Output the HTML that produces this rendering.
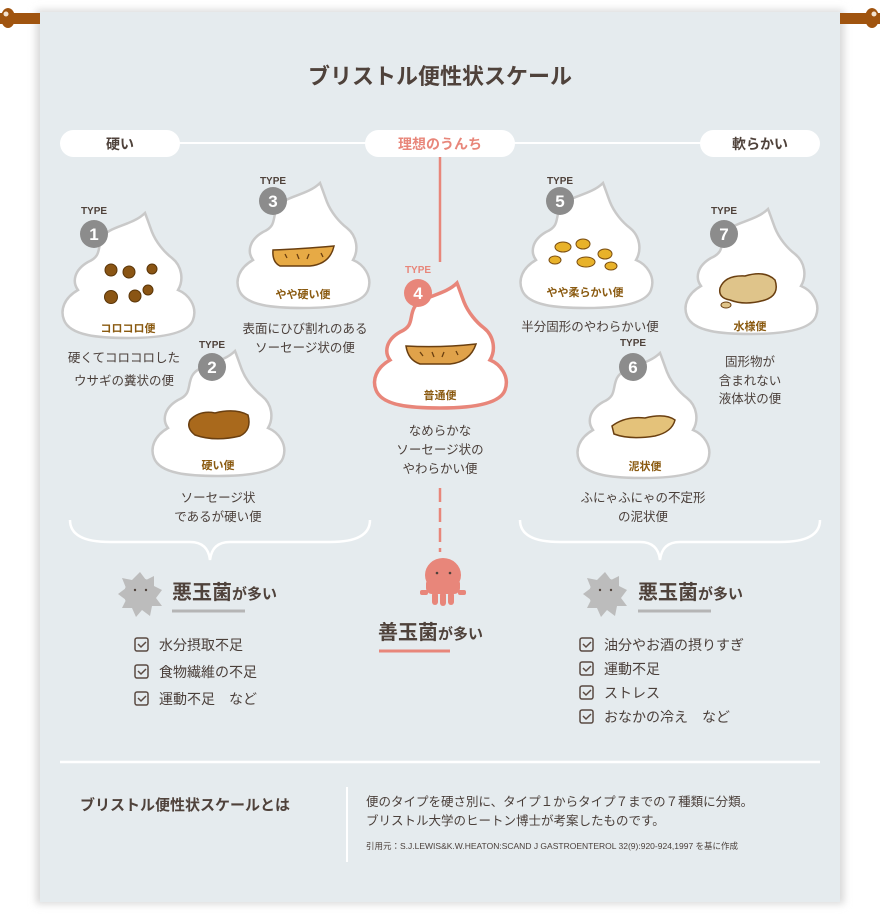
<!DOCTYPE html>
<html><head><meta charset="utf-8"><style>
html,body{margin:0;padding:0;background:#fff;}
svg{display:block;font-family:"Liberation Sans","Noto Sans CJK JP",sans-serif;}
</style></head><body>
<svg width="880" height="920" viewBox="0 0 880 920" xmlns="http://www.w3.org/2000/svg">
<defs>
<path id="p" d="M85,3 C72,16 48,16 42,28 C37,38 42,46 28,52 C14,60 12,72 18,80 C4,88 0,100 4,110 C10,126 40,128 68,128 C100,128 128,124 133,110 C138,96 128,84 118,80 C124,70 122,56 112,48 C104,42 96,32 92,22 C89,14 87,8 85,3 Z"/>
<filter id="sh" x="-5%" y="-5%" width="110%" height="110%"><feGaussianBlur stdDeviation="4"/></filter>
</defs>
<rect x="36" y="10" width="808" height="894" fill="#d8d8d8" filter="url(#sh)"/>
<rect x="40" y="12" width="800" height="890" fill="#e5ebee"/>
<rect x="0" y="13" width="40" height="11" fill="#a0540f"/>
<rect x="840" y="13" width="40" height="11" fill="#a0540f"/>
<ellipse cx="8" cy="18" rx="7" ry="10" fill="#a0540f"/><circle cx="6" cy="14" r="2.5" fill="#f2e2d0"/>
<ellipse cx="872" cy="18" rx="7" ry="10" fill="#a0540f"/><circle cx="874" cy="14" r="2.5" fill="#f2e2d0"/>

<text x="440" y="84" text-anchor="middle" font-size="22" font-weight="bold" fill="#4f423b">ブリストル便性状スケール</text>

<line x1="120" y1="143" x2="760" y2="143" stroke="#fff" stroke-width="2"/>
<rect x="60" y="130" width="120" height="27" rx="13.5" fill="#fff"/>
<text x="120" y="149" text-anchor="middle" font-size="14" font-weight="bold" fill="#4f423b">硬い</text>
<rect x="365" y="130" width="150" height="27" rx="13.5" fill="#fff"/>
<text x="440" y="149" text-anchor="middle" font-size="14" font-weight="bold" fill="#e8867a">理想のうんち</text>
<rect x="700" y="130" width="120" height="27" rx="13.5" fill="#fff"/>
<text x="760" y="149" text-anchor="middle" font-size="14" font-weight="bold" fill="#4f423b">軟らかい</text>

<line x1="440" y1="157" x2="440" y2="262" stroke="#e8867a" stroke-width="2.5"/>
<line x1="440" y1="488" x2="440" y2="552" stroke="#e8867a" stroke-width="2.5" stroke-dasharray="14,6"/>

<g stroke="#c9c9c9" stroke-width="2.5" fill="#fff">
<use href="#p" transform="translate(60,210)"/>
<use href="#p" transform="translate(235,180)"/>
<use href="#p" transform="translate(150,348)"/>
<use href="#p" transform="translate(518,180)"/>
<use href="#p" transform="translate(575,350)"/>
<use href="#p" transform="translate(683,206)"/>
</g>
<use href="#p" transform="translate(372,280)" fill="#fff" stroke="#e8867a" stroke-width="3.5"/>

<g fill="#8a5514" stroke="#5a3508" stroke-width="1">
<circle cx="111" cy="270" r="6"/><circle cx="129" cy="272" r="6"/><circle cx="152" cy="269" r="5"/>
<circle cx="111" cy="297" r="6.5"/><circle cx="135" cy="296" r="6"/><circle cx="148" cy="290" r="5"/>
</g>
<path d="M273,250 Q300,249 334,246 Q330,264 310,266 L280,266 Q272,262 273,250Z" fill="#e7aa45" stroke="#6a3f10" stroke-width="1.5"/>
<g stroke="#6a3f10" stroke-width="1.3"><path d="M285,254 l2,4 M297,254 l2,5 M309,254 l-2,5 M321,253 l2,4"/></g>
<path d="M190,420 Q200,410 215,413 Q235,408 248,415 Q252,430 240,436 Q215,442 195,435 Q186,428 190,420Z" fill="#a9691c" stroke="#6a3f10" stroke-width="1.5"/>
<path d="M406,346 Q440,348 476,344 Q470,362 450,364 L420,364 Q408,360 406,346Z" fill="#e0a24a" stroke="#6a3f10" stroke-width="1.5"/>
<g stroke="#6a3f10" stroke-width="1.3"><path d="M420,352 l3,4 M432,352 l2,5 M444,352 l-2,5 M456,351 l2,4"/></g>
<g fill="#e8b22a" stroke="#7a4d10" stroke-width="1">
<ellipse cx="563" cy="247" rx="8" ry="5"/><ellipse cx="583" cy="244" rx="7" ry="5"/><ellipse cx="555" cy="260" rx="6" ry="4"/>
<ellipse cx="586" cy="262" rx="9" ry="5"/><ellipse cx="605" cy="254" rx="7" ry="5"/><ellipse cx="611" cy="266" rx="6" ry="4"/>
</g>
<path d="M612,426 Q625,416 645,418 Q665,413 675,420 Q672,432 655,436 Q630,440 614,434Z" fill="#e4c27a" stroke="#6a3f10" stroke-width="1.5"/>
<path d="M720,288 Q725,275 745,276 Q765,270 775,280 Q780,295 765,300 Q745,306 730,300 Q718,298 720,288Z" fill="#dfc48a" stroke="#6a3f10" stroke-width="1.5"/>
<ellipse cx="726" cy="305" rx="5" ry="3" fill="#dfc48a" stroke="#6a3f10"/>

<g font-size="10" font-weight="bold" text-anchor="middle" fill="#4f423b">
<text x="94" y="214">TYPE</text><text x="273" y="184">TYPE</text><text x="212" y="348">TYPE</text>
<text x="560" y="184">TYPE</text><text x="633" y="346">TYPE</text><text x="724" y="214">TYPE</text>
<text x="418" y="273" fill="#e8867a">TYPE</text>
</g>
<g fill="#8c8c8c"><circle cx="94" cy="234" r="14"/><circle cx="273" cy="201" r="14"/><circle cx="212" cy="367" r="14"/><circle cx="560" cy="201" r="14"/><circle cx="633" cy="367" r="14"/><circle cx="724" cy="234" r="14"/></g>
<circle cx="418" cy="293" r="14" fill="#e8867a"/>
<g font-size="17" font-weight="bold" text-anchor="middle" fill="#fff">
<text x="94" y="240">1</text><text x="273" y="207">3</text><text x="212" y="373">2</text><text x="560" y="207">5</text><text x="633" y="373">6</text><text x="724" y="240">7</text><text x="418" y="299">4</text>
</g>

<g font-size="11" font-weight="bold" text-anchor="middle" fill="#8a5a10">
<text x="128" y="332">コロコロ便</text><text x="303" y="298">やや硬い便</text><text x="218" y="469">硬い便</text>
<text x="440" y="399">普通便</text><text x="585" y="296">やや柔らかい便</text><text x="645" y="470">泥状便</text><text x="750" y="330">水様便</text>
</g>
<g font-size="12.5" text-anchor="middle" fill="#4a3f3a">
<text x="124" y="362">硬くてコロコロした</text><text x="124" y="385">ウサギの糞状の便</text>
<text x="305" y="333">表面にひび割れのある</text><text x="305" y="352">ソーセージ状の便</text>
<text x="218" y="502">ソーセージ状</text><text x="218" y="521">であるが硬い便</text>
<text x="440" y="435">なめらかな</text><text x="440" y="454">ソーセージ状の</text><text x="440" y="473">やわらかい便</text>
<text x="590" y="331">半分固形のやわらかい便</text>
<text x="643" y="502">ふにゃふにゃの不定形</text><text x="643" y="521">の泥状便</text>
<text x="750" y="366">固形物が</text><text x="750" y="385">含まれない</text><text x="750" y="403">液体状の便</text>
</g>

<path d="M70,520 Q70,542 110,542 L190,542 Q208,542 210,560 Q212,542 230,542 L330,542 Q370,542 370,520" fill="none" stroke="#fff" stroke-width="2.5"/>
<path d="M520,520 Q520,542 560,542 L640,542 Q658,542 660,560 Q662,542 680,542 L780,542 Q820,542 820,520" fill="none" stroke="#fff" stroke-width="2.5"/>

<g fill="#bcbcbc">
<circle cx="140" cy="594" r="16"/><polygon points="140,572 146,580 154,576 154,586 162,590 156,598 162,606 152,606 150,616 142,610 136,617 132,608 122,608 126,600 118,594 126,588 122,578 132,580"/>
<circle cx="605" cy="594" r="16"/><polygon points="605,572 611,580 619,576 619,586 627,590 621,598 627,606 617,606 615,616 607,610 601,617 597,608 587,608 591,600 583,594 591,588 587,578 597,580"/>
</g>
<g fill="#4f423b"><circle cx="135" cy="590" r="1.2"/><circle cx="146" cy="590" r="1.2"/><circle cx="600" cy="590" r="1.2"/><circle cx="611" cy="590" r="1.2"/></g>
<g fill="#e8867a"><ellipse cx="443" cy="575" rx="18" ry="17"/><rect x="426" y="578" width="34" height="16" rx="6"/><rect x="420" y="590" width="8" height="5" rx="2"/><rect x="458" y="590" width="8" height="5" rx="2"/><rect x="432" y="592" width="6" height="13" rx="3"/><rect x="440" y="592" width="6" height="14" rx="3"/><rect x="448" y="592" width="6" height="13" rx="3"/></g>
<g fill="#4f423b"><circle cx="437" cy="573" r="1.3"/><circle cx="450" cy="573" r="1.3"/></g>

<g font-weight="bold" fill="#4f423b">
<text x="172" y="599" font-size="20">悪玉菌<tspan font-size="15">が多い</tspan></text>
<text x="638" y="599" font-size="20">悪玉菌<tspan font-size="15">が多い</tspan></text>
<text x="378" y="639" font-size="20">善玉菌<tspan font-size="15">が多い</tspan></text>
</g>
<line x1="172" y1="611" x2="245" y2="611" stroke="#b5b5b5" stroke-width="3"/>
<line x1="638" y1="611" x2="711" y2="611" stroke="#b5b5b5" stroke-width="3"/>
<line x1="379" y1="651" x2="450" y2="651" stroke="#e8867a" stroke-width="3"/>

<g fill="none" stroke="#5a4a42" stroke-width="1.5">
<rect x="135" y="638" width="13" height="13" rx="2"/><rect x="135" y="665" width="13" height="13" rx="2"/><rect x="135" y="692" width="13" height="13" rx="2"/>
<rect x="580" y="638" width="13" height="13" rx="2"/><rect x="580" y="662" width="13" height="13" rx="2"/><rect x="580" y="686" width="13" height="13" rx="2"/><rect x="580" y="710" width="13" height="13" rx="2"/>
<path d="M138,644 l3,3 l5,-5 M138,671 l3,3 l5,-5 M138,698 l3,3 l5,-5 M583,644 l3,3 l5,-5 M583,668 l3,3 l5,-5 M583,692 l3,3 l5,-5 M583,716 l3,3 l5,-5"/>
</g>
<g font-size="14" fill="#4a3f3a">
<text x="159" y="650">水分摂取不足</text><text x="159" y="677">食物繊維の不足</text><text x="159" y="704">運動不足　など</text>
<text x="604" y="650">油分やお酒の摂りすぎ</text><text x="604" y="674">運動不足</text><text x="604" y="698">ストレス</text><text x="604" y="722">おなかの冷え　など</text>
</g>

<line x1="60" y1="762" x2="820" y2="762" stroke="#fff" stroke-width="2.5"/>
<line x1="347" y1="787" x2="347" y2="862" stroke="#fff" stroke-width="2"/>
<text x="80" y="810" font-size="15" font-weight="bold" fill="#4f423b">ブリストル便性状スケールとは</text>
<text x="366" y="806" font-size="12.5" fill="#4a3f3a">便のタイプを硬さ別に、タイプ１からタイプ７までの７種類に分類。</text>
<text x="366" y="825" font-size="12.5" fill="#4a3f3a">ブリストル大学のヒートン博士が考案したものです。</text>
<text x="366" y="849" font-size="8.5" fill="#4a3f3a">引用元：S.J.LEWIS&amp;K.W.HEATON:SCAND J GASTROENTEROL 32(9):920-924,1997 を基に作成</text>
</svg>
</body></html>
